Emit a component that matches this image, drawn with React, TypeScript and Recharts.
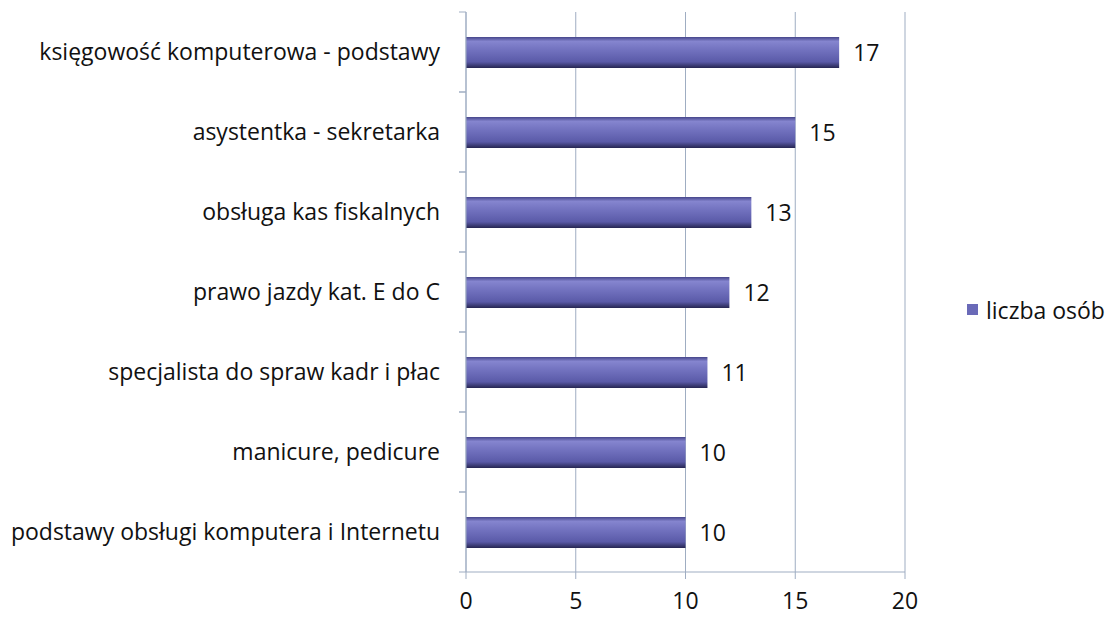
import { BarChart, Bar, XAxis, YAxis, CartesianGrid, Legend, LabelList } from "recharts";

const courses = [
  "księgowość komputerowa - podstawy",
  "asystentka - sekretarka",
  "obsługa kas fiskalnych",
  "prawo jazdy kat. E do C",
  "specjalista do spraw kadr i płac",
  "manicure, pedicure",
  "podstawy obsługi komputera i Internetu",
];
const persons = [17, 15, 13, 12, 11, 10, 10];
const xTicks = [0, 5, 10, 15, 20];
const seriesName = "liczba osób";

const data = courses.map((name, i) => ({ name, value: persons[i] }));

const FONT = "'Open Sans', sans-serif";
const AXIS = "#9fadc2";
const AXIS_X = 466;
const BAND = 80;

function CourseTick(props: any) {
  const { x, y, payload } = props;
  return (
    <g>
      <line x1={AXIS_X - 7} x2={AXIS_X} y1={y + BAND / 2} y2={y + BAND / 2} stroke={AXIS} />
      <line x1={AXIS_X - 7} x2={AXIS_X} y1={y - BAND / 2} y2={y - BAND / 2} stroke={AXIS} />
      <text x={x} y={y} dy="0.35em" textAnchor="end" fill="#111" fontSize={23} fontFamily={FONT}>
        {payload.value}
      </text>
    </g>
  );
}

function LegendBox() {
  return (
    <div style={{ paddingLeft: 62, display: "flex", alignItems: "center", fontFamily: FONT, fontSize: 23, color: "#111" }}>
      <span style={{ width: 11, height: 11, background: "#6a6ab8", display: "inline-block", marginRight: 8 }} />
      {seriesName}
    </div>
  );
}

export default function App() {
  return (
    <div style={{ position: "absolute", left: 0, top: 0, background: "#fff" }}>
      <BarChart
        width={1113}
        height={619}
        data={data}
        layout="vertical"
        margin={{ top: 12, right: 8, bottom: 0, left: 0 }}
      >
        <defs>
          <linearGradient id="cyl" x1="0" y1="0" x2="0" y2="1">
            <stop offset="0%" stopColor="#46468a" />
            <stop offset="14%" stopColor="#8585cf" />
            <stop offset="40%" stopColor="#7373c0" />
            <stop offset="80%" stopColor="#5a5aa8" />
            <stop offset="100%" stopColor="#262652" />
          </linearGradient>
        </defs>
        <CartesianGrid horizontal={false} stroke={AXIS} />
        <XAxis
          type="number"
          domain={[0, 20]}
          ticks={xTicks}
          height={47}
          stroke={AXIS}
          tickSize={7}
          tick={{ fill: "#111", fontSize: 23, fontFamily: FONT }}
          tickMargin={14}
        />
        <YAxis
          type="category"
          dataKey="name"
          width={AXIS_X}
          stroke={AXIS}
          tickLine={false}
          tickMargin={20}
          tick={<CourseTick />}
        />
        <Legend
          layout="vertical"
          align="right"
          verticalAlign="middle"
          width={200}
          content={() => <LegendBox />}
        />
        <Bar dataKey="value" name={seriesName} fill="url(#cyl)" barSize={31} isAnimationActive={false}>
          <LabelList dataKey="value" position="right" offset={14} fill="#111" fontSize={23} fontFamily={FONT} />
        </Bar>
      </BarChart>
    </div>
  );
}
